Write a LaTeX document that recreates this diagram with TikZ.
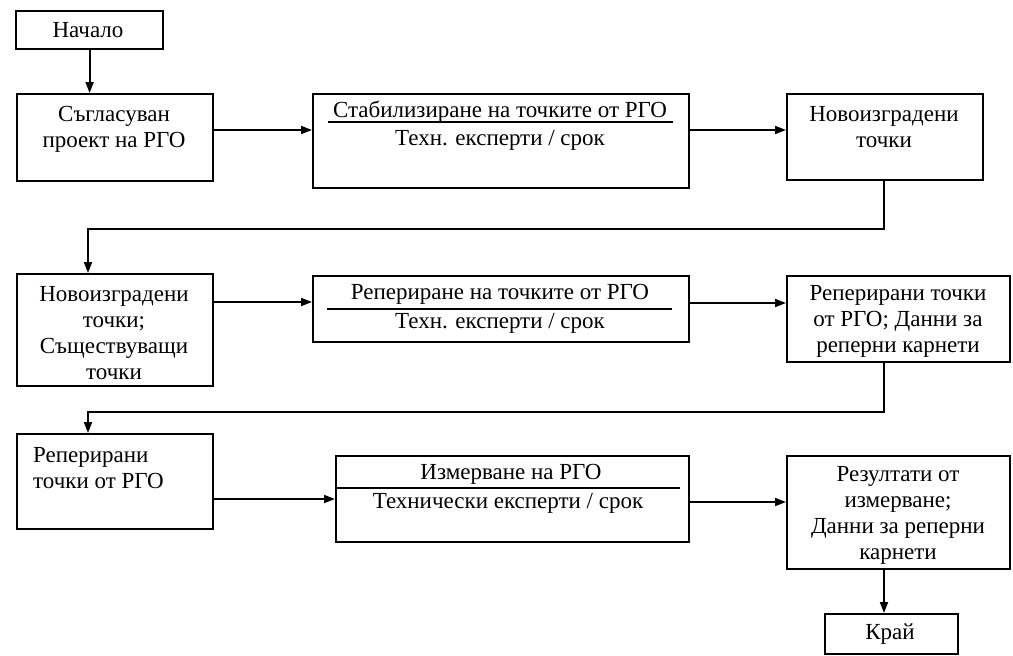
\documentclass[tikz,border=0pt]{standalone}
\usepackage{fontspec}
\setmainfont{Liberation Serif}
\usetikzlibrary{arrows.meta}
\begin{document}
\begin{tikzpicture}[x=1pt,y=-1pt,
  box/.style={draw, line width=2.2pt, inner sep=0pt, anchor=north west},
  txt/.style={font=\fontsize{23}{26}\selectfont, align=center, inner sep=0pt},
  flow/.style={line width=1.8pt, -{Triangle[length=11pt,width=8pt]}},
  bar/.style={line width=1.8pt}]
\useasboundingbox[fill=white] (0,0) rectangle (1013,656);

% boxes
\node[box, minimum width=147pt, minimum height=38pt]  (start) at (15,10)  {};
\node[box, minimum width=196pt, minimum height=87pt]  (b1) at (16,93)   {};
\node[box, minimum width=376pt, minimum height=94pt]  (b2) at (312,93)  {};
\node[box, minimum width=196pt, minimum height=86pt]  (b3) at (786,93)  {};
\node[box, minimum width=196pt, minimum height=112pt] (b4) at (16,273)  {};
\node[box, minimum width=376pt, minimum height=66pt]  (b5) at (312,275) {};
\node[box, minimum width=223pt, minimum height=86pt]  (b6) at (786,275) {};
\node[box, minimum width=196pt, minimum height=95pt]  (b7) at (16,433)  {};
\node[box, minimum width=353pt, minimum height=86pt]  (b8) at (335,455) {};
\node[box, minimum width=223pt, minimum height=113pt] (b9) at (786,455) {};
\node[box, minimum width=133pt, minimum height=40pt]  (end) at (824,613) {};

% texts
\node[txt] (tstart) at (88,30) {Начало};
\node[txt] (t1) at (114,129) {Съгласуван\\проект на РГО};
\node[txt] (t2a) at (500,112) {Стабилизиране на точките от РГО};
\node[txt] (t2b) at (500,140) {Техн. експерти / срок};
\node[txt] (t3) at (884,127) {Новоизградени\\точки};
\node[txt] (t4) at (114,333) {Новоизградени\\точки;\\Съществуващи\\точки};
\node[txt] (t5a) at (500,294) {Репериране на точките от РГО};
\node[txt] (t5b) at (500,323) {Техн. експерти / срок};
\node[txt] (t6) at (898,321) {Реперирани точки\\от РГО; Данни за\\реперни карнети};
\node[txt, align=left, anchor=west] (t7) at (33,468) {Реперирани\\точки от РГО};
\node[txt] (t8a) at (511,474) {Измерване на РГО};
\node[txt] (t8b) at (508,503) {Технически експерти / срок};
\node[txt] (t9) at (898,515) {Резултати от\\измерване;\\Данни за реперни\\карнети};
\node[txt] (tend) at (890,634) {Край};

% rules under the task titles
\draw[bar] (328,122) -- (673,122);
\draw[bar] (327,309) -- (672,309);
\draw[bar] (b8.west |- 0,488) -- (680,488);

% bend points of the return lines
\coordinate (k1) at (884,229);
\coordinate (k2) at (88,229);
\coordinate (k3) at (884,412);
\coordinate (k4) at (88,412);

% connectors
\draw[flow] (start.south) -- (start.south |- b1.north);
\draw[flow] (b1.east |- 0,130) -- (b2.west |- 0,130);
\draw[flow] (b2.east |- 0,130) -- (b3.west |- 0,130);
\draw[flow] (k1 |- b3.south) -- (k1) -- (k2) -- (k2 |- b4.north);
\draw[flow] (b4.east |- 0,302) -- (b5.west |- 0,302);
\draw[flow] (b5.east |- 0,303) -- (b6.west |- 0,303);
\draw[flow] (k3 |- b6.south) -- (k3) -- (k4) -- (k4 |- b7.north);
\draw[flow] (b7.east |- 0,499) -- (b8.west |- 0,499);
\draw[flow] (b8.east |- 0,502) -- (b9.west |- 0,502);
\draw[flow] (k1 |- b9.south) -- (k1 |- end.north);
\end{tikzpicture}
\end{document}
